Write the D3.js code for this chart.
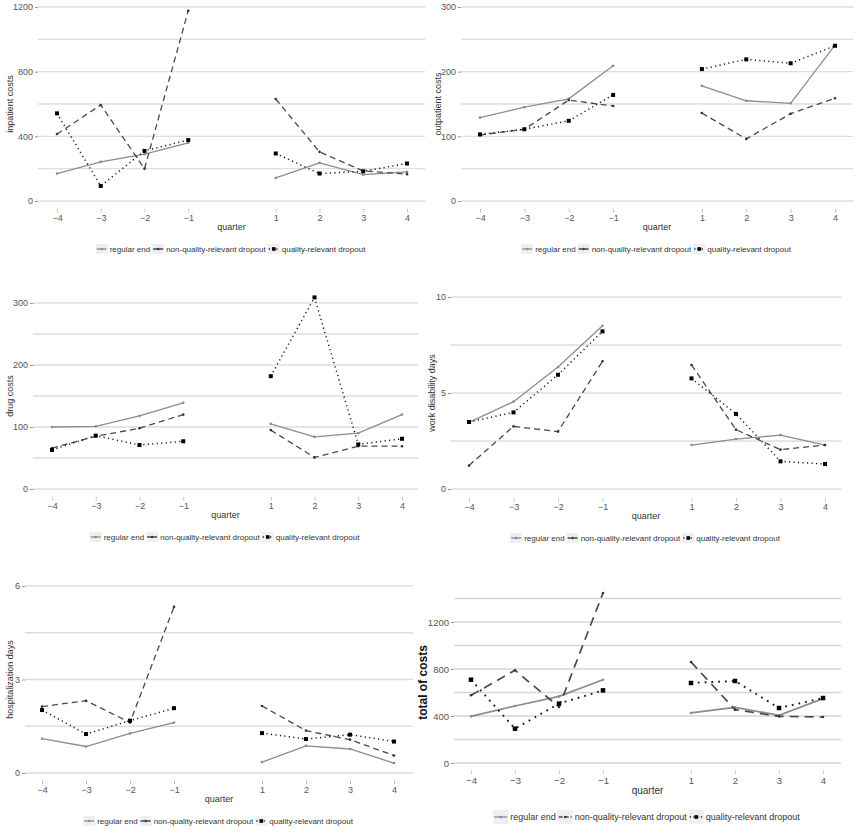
<!DOCTYPE html>
<html>
<head>
<meta charset="utf-8">
<script src="https://cdn.jsdelivr.net/npm/d3@7"></script>
<style>
  body { margin: 0; background: #fff; }
  svg { display: block; }
  text { font-family: "Liberation Sans", Arial, sans-serif; }
</style>
</head>
<body>
<script>

// quarters (0 is left out, it is just the gap between before and after)
var quarters = [-4, -3, -2, -1, 1, 2, 3, 4];
var seriesNames = ["regular end", "non-quality-relevant dropout", "quality-relevant dropout"];

// inpatient costs
var inpRegular = [170, 242, 290, 360, 143, 236, 163, 180];
var inpNonQual = [414, 594, 200, 1177, 631, 304, 186, 166];
var inpQual    = [542, 93, 310, 377, 294, 170, 184, 232];

// outpatient costs
var outRegular = [129, 145, 158, 209, 178, 155, 151, 241];
var outNonQual = [102, 111, 156, 147, 136, 96, 135, 159];
var outQual    = [103, 111, 124, 164, 204, 219, 213, 240];

// drug costs
var drugRegular = [100, 101, 118, 139, 105, 84, 90, 120];
var drugNonQual = [66, 85, 98, 120, 95, 51, 69, 69];
var drugQual    = [63, 86, 71, 77, 182, 309, 72, 81];

// work disability days
var wdRegular = [3.47, 4.55, 6.35, 8.5, 2.29, 2.6, 2.81, 2.29];
var wdNonQual = [1.22, 3.26, 2.99, 6.65, 6.46, 3.09, 2.05, 2.29];
var wdQual    = [3.49, 3.99, 5.95, 8.21, 5.76, 3.91, 1.44, 1.3];

// hospitalization days
var hospRegular = [1.1, 0.85, 1.27, 1.62, 0.35, 0.87, 0.77, 0.32];
var hospNonQual = [2.13, 2.32, 1.62, 5.33, 2.15, 1.36, 1.07, 0.56];
var hospQual    = [2.02, 1.25, 1.68, 2.08, 1.28, 1.09, 1.23, 1.01];

// total of costs
var totRegular = [397, 485, 567, 709, 426, 474, 406, 548];
var totNonQual = [576, 789, 477, 1447, 860, 454, 397, 391];
var totQual    = [709, 292, 505, 618, 681, 698, 468, 553];

// y ticks
var inpTicks = [0, 400, 800, 1200];
var outTicks = [0, 100, 200, 300];
var drugTicks = [0, 100, 200, 300];
var wdTicks = [0, 5, 10];
var hospTicks = [0, 3, 6];
var totTicks = [0, 400, 800, 1200];


var svg = d3.select("body").append("svg")
	.attr("width", 856)
	.attr("height", 832);

var styles = [
	{stroke: "#8c8c8c", width: 1.3, dash: null, pt: "dot", ptColor: "#8c8c8c"},
	{stroke: "#4a4a4a", width: 1.3, dash: "6,4", pt: "dot", ptColor: "#333"},
	{stroke: "#1a1a1a", width: 1.5, dash: "1.2,3.3", pt: "square", ptColor: "#000"}
];

var panels = [
	{label: "inpatient costs", series: [inpRegular, inpNonQual, inpQual], ticks: inpTicks, gridStep: 200, gridMax: 1200,
	 xa: 57, xb: 407, g0: 38, g1: 425, yRef: 1200, y0: 201, yTop: 7, xAxisY: 209, labX: 10, fs: 9, big: false},
	{label: "outpatient costs", series: [outRegular, outNonQual, outQual], ticks: outTicks, gridStep: 50, gridMax: 300,
	 xa: 480, xb: 835, g0: 461, g1: 853, yRef: 300, y0: 201, yTop: 7, xAxisY: 209, labX: 438, fs: 9, big: false},
	{label: "drug costs", series: [drugRegular, drugNonQual, drugQual], ticks: drugTicks, gridStep: 50, gridMax: 300,
	 xa: 52, xb: 402, g0: 33, g1: 418, yRef: 300, y0: 489, yTop: 303, xAxisY: 497, labX: 10, fs: 9, big: false},
	{label: "work disability days", series: [wdRegular, wdNonQual, wdQual], ticks: wdTicks, gridStep: 2.5, gridMax: 10,
	 xa: 469, xb: 825, g0: 451, g1: 841, yRef: 10, y0: 489, yTop: 297, xAxisY: 498, labX: 432, fs: 9, big: false},
	{label: "hospitalization days", series: [hospRegular, hospNonQual, hospQual], ticks: hospTicks, gridStep: 1.5, gridMax: 6,
	 xa: 42, xb: 394, g0: 25, g1: 413, yRef: 6, y0: 773, yTop: 586, xAxisY: 781, labX: 10, fs: 9, big: false},
	{label: "total of costs", series: [totRegular, totNonQual, totQual], ticks: totTicks, gridStep: 200, gridMax: 1400,
	 xa: 471, xb: 823, g0: 454, g1: 841, yRef: 1200, y0: 763, yTop: 622, xAxisY: 771, labX: 423, fs: 9.5, big: true}
];

panels.forEach(function (p) {
	var x = d3.scaleLinear().domain([-4, 4]).range([p.xa, p.xb]);
	var y = d3.scaleLinear().domain([0, p.yRef]).range([p.y0, p.yTop]);
	var g = svg.append("g");

	// grid lines
	var grid = d3.range(0, p.gridMax + 0.001, p.gridStep);
	g.selectAll("line.grid")
		.data(grid)
		.enter().append("line")
		.attr("x1", p.g0).attr("x2", p.g1)
		.attr("y1", function (d) { return y(d); })
		.attr("y2", function (d) { return y(d); })
		.attr("stroke", p.big ? "#d6d6d6" : "#dedede")
		.attr("stroke-width", p.big ? 1.6 : 1.4);

	// y axis
	var yAxis = d3.axisLeft(y).tickValues(p.ticks).tickSize(3).tickPadding(2)
		.tickFormat(d3.format("d"));
	var ya = g.append("g").attr("transform", "translate(" + p.g0 + ",0)").call(yAxis);
	ya.select(".domain").remove();
	ya.selectAll("line").attr("stroke", "#999");
	ya.selectAll("text").attr("fill", "#555").style("font-size", p.fs + "px")
		.style("font-family", "Liberation Sans, Arial, sans-serif");

	// x axis
	var xAxis = d3.axisBottom(x).tickValues(quarters).tickSize(3).tickPadding(3)
		.tickFormat(d3.format("d"));
	var xa = g.append("g").attr("transform", "translate(0," + p.xAxisY + ")").call(xAxis);
	xa.select(".domain").remove();
	xa.selectAll("line").attr("stroke", "#999").attr("stroke-dasharray", "1,1");
	xa.selectAll("text").attr("fill", "#555").style("font-size", p.fs + "px")
		.style("font-family", "Liberation Sans, Arial, sans-serif");

	var mid = (p.g0 + p.g1) / 2;
	g.append("text")
		.attr("x", mid)
		.attr("y", p.xAxisY + (p.big ? 23 : 21))
		.attr("text-anchor", "middle")
		.attr("fill", "#333")
		.style("font-size", (p.big ? 10 : 9) + "px")
		.text("quarter");

	g.append("text")
		.attr("transform", "translate(" + p.labX + "," + ((p.y0 + p.yTop) / 2 + (p.big ? -10 : 0)) + ") rotate(-90)")
		.attr("text-anchor", "middle")
		.attr("dy", p.big ? "0.35em" : "0.3em")
		.attr("fill", p.big ? "#111" : "#333")
		.style("font-size", (p.big ? 12 : 9) + "px")
		.style("font-weight", p.big ? "bold" : "normal")
		.text(p.label);

	// lines, split into before and after
	var line = d3.line()
		.defined(function (d) { return d.q !== 0; })
		.x(function (d) { return x(d.q); })
		.y(function (d) { return y(d.v); });

	p.series.forEach(function (vals, i) {
		var st = styles[i];
		var pts = quarters.map(function (q, j) { return {q: q, v: vals[j]}; });
		var withGap = pts.slice(0, 4).concat([{q: 0, v: 0}]).concat(pts.slice(4));
		g.append("path")
			.datum(withGap)
			.attr("d", line)
			.attr("fill", "none")
			.attr("stroke", st.stroke)
			.attr("stroke-width", p.big ? st.width + 0.4 : st.width)
			.attr("stroke-dasharray", st.dash ? (p.big && i == 1 ? "9,6" : (p.big && i == 2 ? "1.8,5" : st.dash)) : null);

		if (st.pt === "square") {
			var s = p.big ? 4.5 : 4;
			g.selectAll(null)
				.data(pts)
				.enter().append("rect")
				.attr("x", function (d) { return x(d.q) - s / 2; })
				.attr("y", function (d) { return y(d.v) - s / 2; })
				.attr("width", s).attr("height", s)
				.attr("fill", st.ptColor);
		} else {
			g.selectAll(null)
				.data(pts)
				.enter().append("circle")
				.attr("cx", function (d) { return x(d.q); })
				.attr("cy", function (d) { return y(d.v); })
				.attr("r", 1.3)
				.attr("fill", st.ptColor);
		}
	});

	// legend
	var ly = p.xAxisY + (p.big ? 46 : 40);
	var lfs = p.big ? 9 : 8;
	var kw = p.big ? 15 : 12, kh = p.big ? 14 : 10;
	var leg = g.append("g");
	var cx = 0;
	seriesNames.forEach(function (name, i) {
		var st = styles[i];
		var item = leg.append("g").attr("transform", "translate(" + cx + ",0)");
		item.append("rect")
			.attr("x", 0).attr("y", -kh / 2)
			.attr("width", kw).attr("height", kh)
			.attr("fill", "#efefef");
		item.append("line")
			.attr("x1", 1).attr("x2", kw - 1)
			.attr("y1", 0).attr("y2", 0)
			.attr("stroke", st.stroke)
			.attr("stroke-width", st.width)
			.attr("stroke-dasharray", st.dash ? (i == 1 ? "4,2" : "1.2,2.5") : null);
		if (st.pt === "square") {
			item.append("rect").attr("x", kw / 2 - 1.8).attr("y", -1.8).attr("width", 3.6).attr("height", 3.6).attr("fill", "#000");
		} else {
			item.append("circle").attr("cx", kw / 2).attr("cy", 0).attr("r", 1.3).attr("fill", st.ptColor);
		}
		var t = item.append("text")
			.attr("x", kw + 2)
			.attr("y", 0)
			.attr("dy", "0.35em")
			.attr("fill", "#333")
			.style("font-size", lfs + "px")
			.text(name);
		cx += kw + 2 + t.node().getComputedTextLength() + 2;
	});
	leg.attr("transform", "translate(" + (mid - cx / 2) + "," + ly + ")");
});

</script>
</body>
</html>
